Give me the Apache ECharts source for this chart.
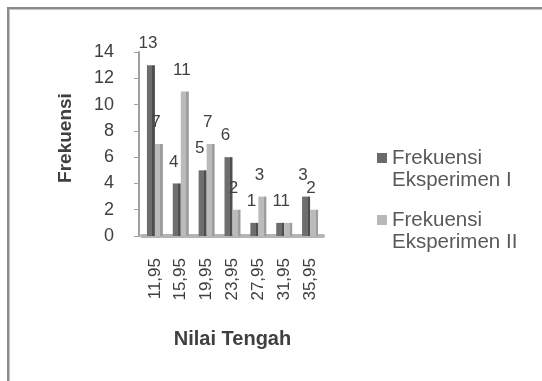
<!DOCTYPE html>
<html>
<head>
<meta charset="utf-8">
<script src="https://cdn.jsdelivr.net/npm/echarts@6/dist/echarts.min.js"></script>
<style>
html,body{margin:0;padding:0;background:#fff;overflow:hidden;}
#frame{position:absolute;left:7px;top:7px;width:600px;height:420px;border:2px solid #8a8a8a;box-shadow:inset 1px 1px 0 #c4c4c4;pointer-events:none;}
#chart{position:absolute;left:0;top:0;width:542px;height:381px;}
</style>
</head>
<body>
<div id="frame"></div>
<div id="chart"></div>
<script>
var categories = ['11,95','15,95','19,95','23,95','27,95','31,95','35,95'];
var seriesNames = ['Frekuensi Eksperimen I','Frekuensi Eksperimen II'];
var eksperimenI = [13, 4, 5, 6, 1, 1, 3];
var eksperimenII = [7, 11, 7, 2, 3, 1, 2];
var yTicks = [0, 2, 4, 6, 8, 10, 12, 14];

function shade(front, side) {
  return {type:'linear', x:0, y:0, x2:1, y2:0, colorStops:[
    {offset:0, color:front},{offset:0.68, color:front},
    {offset:0.68, color:side},{offset:1, color:side}]};
}
var FONT = 'Liberation Sans, Arial, sans-serif';
var labelStyle = {show:true, position:'top', distance:13, offset:[-3,0], color:'#404040', fontSize:17, fontFamily:FONT};

var chart = echarts.init(document.getElementById('chart'));
var legendText = {color:'#595959', fontSize:20.5, fontFamily:FONT, lineHeight:22};
function legendFmt(n){ return '\n' + n.replace(' ','\n'); }
chart.setOption({
  animation:false,
  grid:{left:142, width:181, top:52, height:184},
  legend:[
    {orient:'vertical', left:372, top:120, itemWidth:10, itemHeight:10, icon:'rect',
     data:[{name:seriesNames[0], itemStyle:{color:'#6a6a6a'}}],
     formatter:legendFmt, textStyle:legendText},
    {orient:'vertical', left:372, top:182, itemWidth:10, itemHeight:10, icon:'rect',
     data:[{name:seriesNames[1], itemStyle:{color:'#b8b8b8'}}],
     formatter:legendFmt, textStyle:legendText}
  ],
  xAxis:{
    type:'category', data:categories,
    name:'Nilai Tengah', nameLocation:'middle', nameGap:93,
    nameTextStyle:{fontSize:20, fontWeight:'bold', color:'#404040', fontFamily:FONT},
    axisLine:{lineStyle:{color:'#b4b4b4', width:4}},
    axisTick:{show:false},
    axisLabel:{rotate:90, margin:22, fontSize:17, color:'#404040', fontFamily:FONT, padding:[0,0,10,0]}
  },
  yAxis:{
    type:'value', min:yTicks[0], max:yTicks[yTicks.length-1], interval:2, offset:3,
    name:'Frekuensi', nameLocation:'middle', nameRotate:90, nameGap:64,
    nameTextStyle:{fontSize:19, fontWeight:'bold', color:'#404040', fontFamily:FONT, padding:[0,0,0,12]},
    axisLine:{show:true, lineStyle:{color:'#a0a0a0', width:2}},
    axisTick:{show:true, length:5, lineStyle:{color:'#a0a0a0'}},
    splitLine:{show:false},
    axisLabel:{margin:25, fontSize:18, color:'#404040', fontFamily:FONT}
  },
  series:[
    {name:seriesNames[0], type:'bar', data:eksperimenI, barWidth:8, barGap:'0%',
     itemStyle:{color:shade('#6e6e6e','#4e4e4e')}, label:labelStyle},
    {name:seriesNames[1], type:'bar', data:eksperimenII, barWidth:8,
     itemStyle:{color:shade('#bbbbbb','#9d9d9d')}, label:labelStyle}
  ]
});
</script>
</body>
</html>
